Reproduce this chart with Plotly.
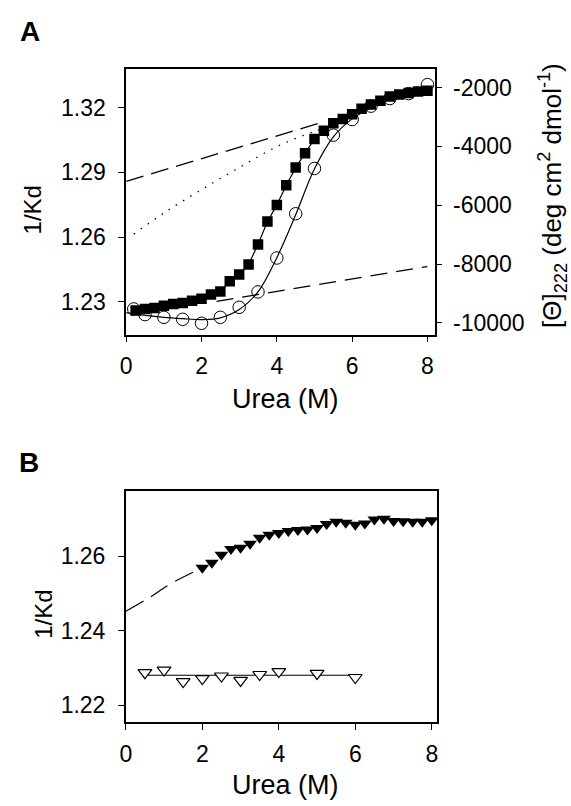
import plotly.graph_objects as go

W, H = 571, 806
FONT = "Arial, Liberation Sans, Helvetica, sans-serif"

# ---------------- Panel A data ----------------
sq_urea = [0.25, 0.5, 0.75, 1.0, 1.25, 1.5, 1.75, 2.0, 2.25, 2.5, 2.75, 3.0, 3.25, 3.5,
           3.75, 4.0, 4.25, 4.5, 4.75, 5.0, 5.25, 5.5, 5.75, 6.0, 6.25, 6.5, 6.75, 7.0,
           7.25, 7.5, 7.75, 8.0]
sq_invkd = [1.2260, 1.2267, 1.2272, 1.2283, 1.2291, 1.2295, 1.2306, 1.2315, 1.2334,
            1.2349, 1.2396, 1.2427, 1.2474, 1.2566, 1.2672, 1.2749, 1.2840, 1.2922,
            1.2989, 1.3054, 1.3093, 1.3127, 1.3147, 1.3169, 1.3194, 1.3214, 1.3232,
            1.3251, 1.3260, 1.3267, 1.3274, 1.3278]

circ_urea = [0.2, 0.5, 1.0, 1.5, 2.0, 2.5, 3.0, 3.5, 4.0, 4.5, 5.0, 5.5, 6.0, 6.5, 7.0, 7.5, 8.0]
circ_theta = [-9525, -9718, -9810, -9878, -10014, -9810, -9470, -8947, -7793, -6289,
              -4750, -3616, -3087, -2631, -2373, -2204, -1898]

fit_urea = [0.0, 0.5, 1.0, 1.5, 2.0, 2.5, 3.0, 3.5, 4.0, 4.5, 5.0, 5.5, 6.0, 6.5, 7.0, 7.5, 8.0]
fit_theta = [-9650, -9742, -9810, -9854, -9888, -9830, -9548, -8947, -7783, -6323,
             -4761, -3675, -3064, -2690, -2384, -2146, -1976]

upper_base_urea = [0.0, 5.2]
upper_base_invkd = [1.2858, 1.3132]
lower_base_urea = [2.4, 8.0]
lower_base_invkd = [1.2303, 1.2464]
dot_urea = [0.2, 1.0, 2.0, 3.0, 4.0, 5.0, 5.3]
dot_invkd = [1.2614, 1.2712, 1.2820, 1.2922, 1.3019, 1.3090, 1.3105]

# ---------------- Panel B data ----------------
fill_urea = [2.0, 2.25, 2.5, 2.75, 3.0, 3.25, 3.5, 3.75, 4.0, 4.25, 4.5, 4.75, 5.0,
             5.25, 5.5, 5.75, 6.0, 6.25, 6.5, 6.75, 7.0, 7.25, 7.5, 7.75, 8.0]
fill_invkd = [1.2569, 1.2583, 1.2604, 1.2620, 1.2623, 1.2634, 1.2650, 1.2658, 1.2663,
              1.2668, 1.2671, 1.2672, 1.2676, 1.2687, 1.2693, 1.2690, 1.2685, 1.2688,
              1.2699, 1.2701, 1.2695, 1.2694, 1.2693, 1.2693, 1.2697]
fillfit_urea = [0.0, 0.6, 1.2, 2.0]
fillfit_invkd = [1.2452, 1.2488, 1.2528, 1.2569]

open_urea = [0.5, 1.0, 1.5, 2.0, 2.5, 3.0, 3.5, 4.0, 5.0, 6.0]
open_invkd = [1.2287, 1.2294, 1.2263, 1.2271, 1.2278, 1.2266, 1.2282, 1.2290, 1.2285, 1.2274]
open_line_urea = [0.5, 6.0]
open_line_invkd = [1.2280, 1.2280]

# ticks
x_ticks = [0, 2, 4, 6, 8]
yA_ticks = [1.23, 1.26, 1.29, 1.32]
yA2_ticks = [-10000, -8000, -6000, -4000, -2000]
yA2_labels = ["-10000", "-8000", "-6000", "-4000", "-2000"]
yB_ticks = [1.22, 1.24, 1.26]

fig = go.Figure()
BLACK = "black"

# Panel A traces
fig.add_trace(go.Scatter(x=upper_base_urea, y=upper_base_invkd, mode="lines",
                         line=dict(color=BLACK, width=1.3, dash="18px,8px"),
                         xaxis="x", yaxis="y", showlegend=False))
fig.add_trace(go.Scatter(x=lower_base_urea, y=lower_base_invkd, mode="lines",
                         line=dict(color=BLACK, width=1.3, dash="17px,9px"),
                         xaxis="x", yaxis="y", showlegend=False))
fig.add_trace(go.Scatter(x=dot_urea, y=dot_invkd, mode="lines", line_shape="spline",
                         line=dict(color=BLACK, width=1.3, dash="1.5px,7px"),
                         xaxis="x", yaxis="y", showlegend=False))
fig.add_trace(go.Scatter(x=fit_urea, y=fit_theta, mode="lines", line_shape="spline",
                         line=dict(color=BLACK, width=1.2),
                         xaxis="x", yaxis="y2", showlegend=False))
fig.add_trace(go.Scatter(x=sq_urea, y=sq_invkd, mode="lines+markers",
                         line=dict(color=BLACK, width=1.2),
                         marker=dict(symbol="square", size=10.5, color=BLACK),
                         xaxis="x", yaxis="y", showlegend=False))
fig.add_trace(go.Scatter(x=circ_urea, y=circ_theta, mode="markers",
                         marker=dict(symbol="circle-open", size=12.5, color=BLACK,
                                     line=dict(width=1)),
                         xaxis="x", yaxis="y2", showlegend=False))

# Panel B traces
fig.add_trace(go.Scatter(x=fillfit_urea, y=fillfit_invkd, mode="lines", line_shape="spline",
                         line=dict(color=BLACK, width=1.2, dash="20px,9px"),
                         xaxis="x2", yaxis="y3", showlegend=False))
fig.add_trace(go.Scatter(x=fill_urea, y=fill_invkd, mode="markers",
                         marker=dict(symbol="triangle-down", size=12, color=BLACK),
                         xaxis="x2", yaxis="y3", showlegend=False))
fig.add_trace(go.Scatter(x=open_line_urea, y=open_line_invkd, mode="lines",
                         line=dict(color=BLACK, width=1.2),
                         xaxis="x2", yaxis="y3", showlegend=False))
fig.add_trace(go.Scatter(x=open_urea, y=open_invkd, mode="markers",
                         marker=dict(symbol="triangle-down", size=12, color="white",
                                     line=dict(color=BLACK, width=1.2)),
                         xaxis="x2", yaxis="y3", showlegend=False))

tickfont = dict(family=FONT, size=23, color=BLACK)
axcommon = dict(showgrid=False, zeroline=False, showline=True, linecolor=BLACK,
                linewidth=1.6, ticks="outside", ticklen=6, tickwidth=1.2,
                tickcolor=BLACK, tickfont=tickfont)

def px(v):
    return v / W

def py(v):
    return 1 - v / H

fig.update_layout(
    width=W, height=H,
    margin=dict(l=0, r=0, t=0, b=0),
    paper_bgcolor="white", plot_bgcolor="white",
    xaxis=dict(axcommon, domain=[px(121.7), px(434.7)], range=[0, 8.21],
               tickvals=x_ticks, anchor="y", mirror=True, ticklabelstandoff=4),
    yaxis=dict(axcommon, domain=[py(335), py(69)], range=[1.2149, 1.3379],
               tickvals=yA_ticks, tickformat=".2f", anchor="x", mirror=True,
               ticklabelstandoff=8),
    yaxis2=dict(axcommon, overlaying="y", side="right", anchor="x",
                range=[-10397, -1365], tickvals=yA2_ticks, ticktext=yA2_labels,
                showline=False, ticklabelstandoff=6),
    xaxis2=dict(axcommon, domain=[px(121.3), px(436.5)], range=[0, 8.14],
                tickvals=x_ticks, anchor="y3", mirror=True, ticklabelstandoff=4),
    yaxis3=dict(axcommon, domain=[py(723), py(491.5)], range=[1.2154, 1.2776],
                tickvals=yB_ticks, tickformat=".2f", anchor="x2", mirror=True,
                ticklabelstandoff=8),
)

ann = [
    dict(text="<b>A</b>", x=px(24), y=py(32), font=dict(family=FONT, size=28, color=BLACK)),
    dict(text="<b>B</b>", x=px(23), y=py(463), font=dict(family=FONT, size=28, color=BLACK)),
    dict(text="1/Kd", x=px(27), y=py(210), textangle=-90,
         font=dict(family=FONT, size=24, color=BLACK)),
    dict(text="1/Kd", x=px(38), y=py(615), textangle=-90,
         font=dict(family=FONT, size=24, color=BLACK)),
    dict(text="Urea (M)", x=px(283), y=py(399), font=dict(family=FONT, size=27, color=BLACK)),
    dict(text="Urea (M)", x=px(283), y=py(786), font=dict(family=FONT, size=27, color=BLACK)),
    dict(text="[\u0398]<sub>222</sub> (deg cm<sup>2</sup> dmol<sup>-1</sup>)",
         x=px(553), y=py(196), textangle=-90, font=dict(family=FONT, size=26, color=BLACK)),
]
for a in ann:
    a.update(xref="paper", yref="paper", showarrow=False, xanchor="center", yanchor="middle")
fig.update_layout(annotations=ann)

fig.write_html("out.html", config={"displayModeBar": False},
               post_script="document.body.style.margin='0';document.body.style.overflow='hidden';")
